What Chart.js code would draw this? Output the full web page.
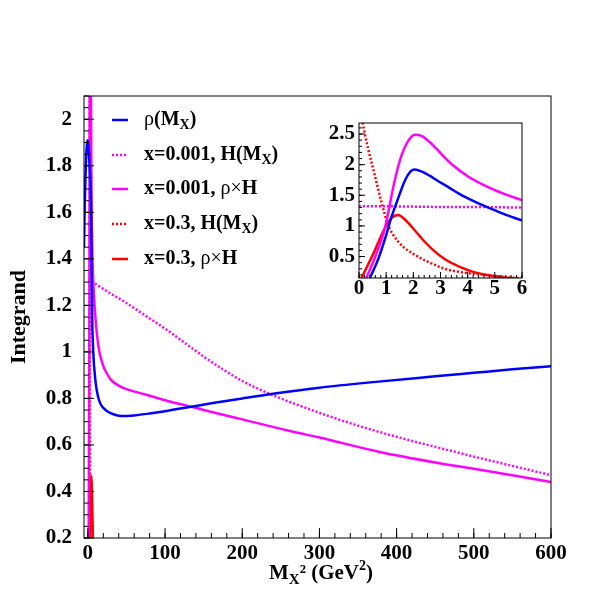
<!DOCTYPE html>
<html>
<head>
<meta charset="utf-8">
<script src="https://cdn.jsdelivr.net/npm/chart.js@4/dist/chart.umd.min.js"></script>
<style>
html, body { margin: 0; padding: 0; background: #fff; }
#wrap { position: relative; width: 599px; height: 599px; }
#main { position: absolute; left: 0; top: 0; }
#inset { position: absolute; left: 300px; top: 100px; }
</style>
</head>
<body>
<div id="wrap">
<canvas id="main" width="599" height="599"></canvas>
<canvas id="inset" width="240" height="200"></canvas>
</div>
<script>
// ---- main panel data (M_X^2 in GeV^2) ----
var rhoX = [-5, -4.4, -2, 0, 2, 4.3, 5.5, 7, 9.8, 13, 16.3, 20.5, 25, 35, 44, 60, 80, 100, 130, 160, 200, 240, 300, 366, 450, 500, 550, 600];
var rhoY = [1.45, 1.57, 1.85, 1.91, 1.82, 1.6, 1.17, 1.0, 0.877, 0.81, 0.777, 0.758, 0.745, 0.73, 0.724, 0.727, 0.735, 0.745, 0.762, 0.779, 0.800, 0.820, 0.846, 0.869, 0.895, 0.910, 0.925, 0.938];

var h001X = [0.3, 6, 25, 50, 75, 100, 125, 150, 175, 200, 225, 250, 300, 350, 400, 450, 500, 550, 600];
var h001Y = [1.31, 1.30, 1.26, 1.21, 1.155, 1.10, 1.04, 0.98, 0.925, 0.875, 0.835, 0.80, 0.738, 0.683, 0.635, 0.592, 0.55, 0.51, 0.47];

var rh001X = [1.0, 2.0, 2.6, 3.2, 4.0, 4.8, 6, 8, 10, 12, 15, 20, 25, 30, 40, 50, 77, 100, 128, 159, 200, 262, 300, 378, 450, 500, 550, 600];
var rh001Y = [0.15, 1.2, 2.4, 2.5, 2.1, 1.65, 1.40, 1.24, 1.14, 1.07, 1.0, 0.94, 0.905, 0.88, 0.855, 0.84, 0.815, 0.792, 0.769, 0.743, 0.71, 0.66, 0.632, 0.57, 0.525, 0.498, 0.47, 0.441];

var h03X = [2.2, 2.6, 3.0];
var h03Y = [2.7, 1.2, 0.1];

var rh03X = [2.5, 4.5, 6.8];
var rh03Y = [0.15, 0.47, 0.15];

// ---- inset data (0 < M_X^2 < 6) ----
var iRhoX = [0.4, 0.7, 1.0, 1.2, 1.44, 1.7, 1.9, 2.05, 2.3, 2.6, 2.85, 3.3, 3.71, 4.2, 4.7, 5.3, 6.0];
var iRhoY = [0.15, 0.45, 0.85, 1.15, 1.45, 1.75, 1.89, 1.92, 1.89, 1.82, 1.75, 1.63, 1.52, 1.41, 1.31, 1.20, 1.09];

var iH001X = [0, 1, 2, 3, 4, 5, 6];
var iH001Y = [1.32, 1.32, 1.315, 1.31, 1.31, 1.305, 1.30];

var iRh001X = [0.27, 0.6, 0.95, 1.31, 1.55, 1.8, 2.05, 2.3, 2.6, 2.85, 3.15, 3.46, 4.0, 4.69, 5.3, 6.0];
var iRh001Y = [0.15, 0.5, 0.96, 1.73, 2.13, 2.38, 2.49, 2.47, 2.37, 2.26, 2.12, 1.99, 1.81, 1.645, 1.53, 1.42];

var iH03X = [0.1, 0.33, 0.58, 0.82, 1.07, 1.44, 2.05, 2.79, 3.15, 4.0, 4.69, 5.5, 6.0];
var iH03Y = [2.75, 2.27, 1.83, 1.40, 1.02, 0.745, 0.53, 0.365, 0.30, 0.23, 0.2, 0.16, 0.145];

var iRh03X = [0.09, 0.5, 0.95, 1.2, 1.44, 1.7, 2.05, 2.4, 2.85, 3.15, 3.71, 4.2, 4.69, 5.36, 6.0];
var iRh03Y = [0.15, 0.52, 0.96, 1.13, 1.18, 1.1, 0.93, 0.75, 0.56, 0.46, 0.33, 0.25, 0.2, 0.16, 0.12];

// ---- tick labels ----
var mainXTicks = [0, 100, 200, 300, 400, 500, 600];
var mainYTicks = [0.2, 0.4, 0.6, 0.8, 1.0, 1.2, 1.4, 1.6, 1.8, 2.0];
var insetXTicks = [0, 1, 2, 3, 4, 5, 6];
var insetYTicks = [0.5, 1.0, 1.5, 2.0, 2.5];

var BLUE = '#0000ff', MAG = '#ff00ff', RED = '#ff0000';
var SERIF = "'Liberation Serif', 'Times New Roman', serif";

Chart.defaults.font.family = SERIF;
Chart.defaults.color = '#000';

function pts(xs, ys) {
  return xs.map(function (x, i) { return { x: x, y: ys[i] }; });
}

function curve(data, color, dotted) {
  return {
    data: data,
    borderColor: color,
    borderWidth: 2.5,
    borderDash: dotted ? [2, 2] : [],
    pointRadius: 0,
    fill: false,
    cubicInterpolationMode: 'monotone',
    clip: 0
  };
}

function steps(a, b, s) {
  var out = [];
  for (var v = a; v <= b + 1e-9; v += s) out.push(Math.round(v * 1000) / 1000);
  return out;
}

function fmt(v) { return String(+(+v).toFixed(2)); }

// frame + inside ticks, ROOT style
function frameTicks(o) {
  return {
    id: 'frameTicks',
    afterDraw: function (chart) {
      var ctx = chart.ctx, a = chart.chartArea;
      var xs = chart.scales.x, ys = chart.scales.y;
      ctx.save();
      ctx.strokeStyle = '#000';
      ctx.lineWidth = 1;
      ctx.strokeRect(a.left, a.top, a.right - a.left, a.bottom - a.top);
      ctx.beginPath();
      o.xMinor.forEach(function (v) {
        var p = xs.getPixelForValue(v);
        ctx.moveTo(p, a.bottom); ctx.lineTo(p, a.bottom - o.minLen);
      });
      o.xMajor.forEach(function (v) {
        var p = xs.getPixelForValue(v);
        ctx.moveTo(p, a.bottom); ctx.lineTo(p, a.bottom - o.majLen);
      });
      o.yMinor.forEach(function (v) {
        var p = ys.getPixelForValue(v);
        ctx.moveTo(a.left, p); ctx.lineTo(a.left + o.minLen, p);
      });
      o.yMajor.forEach(function (v) {
        var p = ys.getPixelForValue(v);
        ctx.moveTo(a.left, p); ctx.lineTo(a.left + o.majLen, p);
      });
      ctx.stroke();
      ctx.restore();
    }
  };
}

// draw text made of pieces: {t, w: weight, s: size, dy}
function rich(ctx, x, y, parts, align) {
  var total = 0;
  parts.forEach(function (p) {
    ctx.font = (p.w || 'bold') + ' ' + p.s + 'px ' + SERIF;
    p.width = ctx.measureText(p.t).width;
    total += p.width;
  });
  var cx = align === 'center' ? x - total / 2 : x;
  parts.forEach(function (p) {
    ctx.font = (p.w || 'bold') + ' ' + p.s + 'px ' + SERIF;
    ctx.fillText(p.t, cx, y + (p.dy || 0));
    cx += p.width;
  });
}

var legendRows = [
  { color: BLUE, dotted: false, y: 120, parts: [{ t: 'ρ', w: 'normal', s: 20 }, { t: '(M', s: 20 }, { t: 'X', s: 14, dy: 5 }, { t: ')', s: 20 }] },
  { color: MAG, dotted: true, y: 155, parts: [{ t: 'x=0.001, H(M', s: 20 }, { t: 'X', s: 14, dy: 5 }, { t: ')', s: 20 }] },
  { color: MAG, dotted: false, y: 189, parts: [{ t: 'x=0.001, ', s: 20 }, { t: 'ρ×', w: 'normal', s: 20 }, { t: 'H', s: 20 }] },
  { color: RED, dotted: true, y: 224, parts: [{ t: 'x=0.3, H(M', s: 20 }, { t: 'X', s: 14, dy: 5 }, { t: ')', s: 20 }] },
  { color: RED, dotted: false, y: 259, parts: [{ t: 'x=0.3, ', s: 20 }, { t: 'ρ×', w: 'normal', s: 20 }, { t: 'H', s: 20 }] }
];

var legendAndTitle = {
  id: 'legendAndTitle',
  afterDraw: function (chart) {
    var ctx = chart.ctx;
    ctx.save();
    ctx.fillStyle = '#000';
    ctx.textBaseline = 'middle';
    legendRows.forEach(function (r) {
      ctx.beginPath();
      ctx.strokeStyle = r.color;
      ctx.lineWidth = 2.5;
      ctx.setLineDash(r.dotted ? [2, 2] : []);
      ctx.moveTo(112, r.y); ctx.lineTo(128, r.y);
      ctx.stroke();
      ctx.setLineDash([]);
      rich(ctx, 144, r.y, r.parts, 'left');
    });
    ctx.textBaseline = 'alphabetic';
    rich(ctx, 321, 579, [
      { t: 'M', s: 21 }, { t: 'X', s: 15, dy: 5 }, { t: '²', s: 21 },
      { t: ' (GeV', s: 21 }, { t: '2', s: 14, dy: -9 }, { t: ')', s: 21 }
    ], 'center');
    ctx.restore();
  }
};

var tickFont = { family: SERIF, size: 21, weight: 'bold', lineHeight: 1 };

new Chart(document.getElementById('main').getContext('2d'), {
  type: 'line',
  data: {
    datasets: [
      curve(pts(rhoX, rhoY), BLUE, false),
      curve(pts(h001X, h001Y), MAG, true),
      curve(pts(rh001X, rh001Y), MAG, false),
      curve(pts(h03X, h03Y), RED, true),
      curve(pts(rh03X, rh03Y), RED, false)
    ]
  },
  options: {
    responsive: false,
    animation: false,
    devicePixelRatio: 1,
    layout: { padding: { left: 0, top: 96, right: 48, bottom: 0 } },
    plugins: { legend: { display: false }, tooltip: { enabled: false } },
    scales: {
      x: {
        type: 'linear', min: -5, max: 600,
        afterBuildTicks: function (s) { s.ticks = mainXTicks.map(function (v) { return { value: v }; }); },
        afterFit: function (s) { s.height = 61; },
        grid: { display: false, drawTicks: false },
        border: { display: false },
        ticks: { font: tickFont, padding: 5, maxRotation: 0, autoSkip: false, callback: function (v) { return fmt(v); } }
      },
      y: {
        type: 'linear', min: 0.2, max: 2.1,
        afterBuildTicks: function (s) { s.ticks = mainYTicks.map(function (v) { return { value: v }; }); },
        afterFit: function (s) { s.width = 84; },
        grid: { display: false, drawTicks: false },
        border: { display: false },
        title: { display: true, text: 'Integrand', font: { family: SERIF, size: 22, weight: 'bold' }, padding: { top: 6, bottom: 0 } },
        ticks: { font: tickFont, padding: 12, autoSkip: false, callback: function (v) { return fmt(v); } }
      }
    }
  },
  plugins: [frameTicks({
    xMajor: mainXTicks, xMinor: steps(0, 600, 20),
    yMajor: mainYTicks, yMinor: steps(0.2, 2.1, 0.05),
    majLen: 10, minLen: 5
  }), legendAndTitle]
});

new Chart(document.getElementById('inset').getContext('2d'), {
  type: 'line',
  data: {
    datasets: [
      curve(pts(iRhoX, iRhoY), BLUE, false),
      curve(pts(iH001X, iH001Y), MAG, true),
      curve(pts(iRh001X, iRh001Y), MAG, false),
      curve(pts(iH03X, iH03Y), RED, true),
      curve(pts(iRh03X, iRh03Y), RED, false)
    ]
  },
  options: {
    responsive: false,
    animation: false,
    devicePixelRatio: 1,
    layout: { padding: { left: 0, top: 23, right: 18, bottom: 0 } },
    plugins: { legend: { display: false }, tooltip: { enabled: false } },
    scales: {
      x: {
        type: 'linear', min: 0, max: 6,
        afterBuildTicks: function (s) { s.ticks = insetXTicks.map(function (v) { return { value: v }; }); },
        afterFit: function (s) { s.height = 22; },
        grid: { display: false, drawTicks: false },
        border: { display: false },
        ticks: { font: tickFont, padding: 0, maxRotation: 0, autoSkip: false, callback: function (v) { return fmt(v); } }
      },
      y: {
        type: 'linear', min: 0.15, max: 2.68,
        afterBuildTicks: function (s) { s.ticks = insetYTicks.map(function (v) { return { value: v }; }); },
        afterFit: function (s) { s.width = 59; },
        grid: { display: false, drawTicks: false },
        border: { display: false },
        ticks: { font: tickFont, padding: 4, autoSkip: false, callback: function (v) { return fmt(v); } }
      }
    }
  },
  plugins: [frameTicks({
    xMajor: insetXTicks, xMinor: steps(0, 6, 0.2),
    yMajor: insetYTicks, yMinor: steps(0.2, 2.6, 0.1),
    majLen: 6, minLen: 3
  })]
});
</script>
</body>
</html>
